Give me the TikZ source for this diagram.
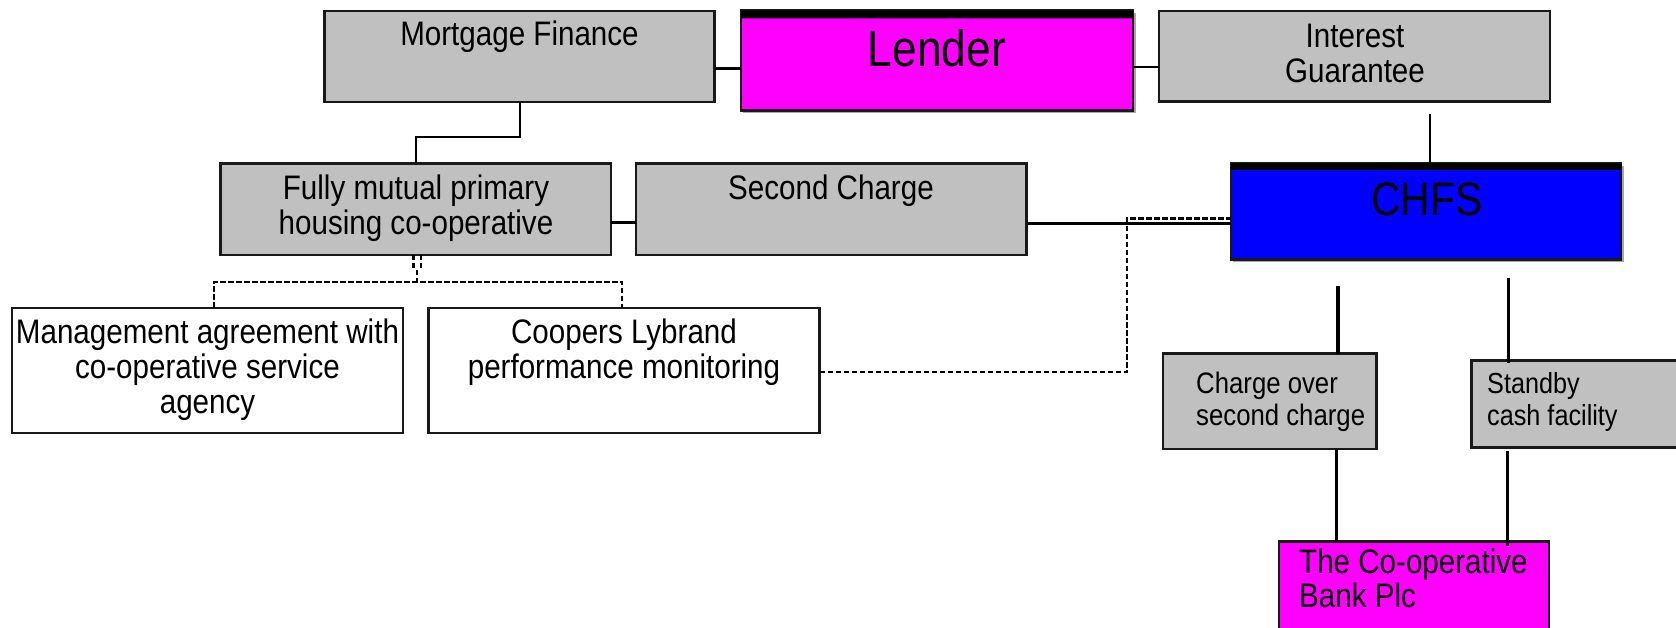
\documentclass[tikz,border=0pt]{standalone}
\usepackage{fontspec}
\setmainfont{Liberation Sans}[FakeStretch=0.87]
\definecolor{boxgrey}{HTML}{C0C0C0}
\definecolor{mag}{HTML}{FF00FF}
\definecolor{chfsblue}{HTML}{0000FF}
\begin{document}
\begin{tikzpicture}[x=1pt,y=-1pt,
  box/.style={draw=black!90, line width=2.2pt, inner sep=0pt, outer sep=0pt, anchor=north west},
  gbox/.style={box, fill=boxgrey},
  wbox/.style={box, fill=white},
  mbox/.style={box, fill=mag, line width=2.5pt},
  bbox/.style={box, fill=chfsblue, line width=2.5pt},
  txt/.style={inner sep=0pt, align=center, font=\fontsize{34}{35}\selectfont},
  ltxt/.style={inner sep=0pt, align=left, anchor=west},
  conn/.style={line width=2.5pt},
  tconn/.style={line width=3.5pt},
  dconn/.style={line width=2.5pt, dash pattern=on 5.5pt off 2.5pt}
]
\useasboundingbox (0,0) rectangle (1676,628);
% boxes
\node[gbox, minimum width=390pt, minimum height=91pt] (mf) at (324.5,11) {};
\node[txt] (mft) at (519.5,37) {Mortgage Finance};

\fill[black!35] (743,13) rectangle (1136,113);
\node[mbox, minimum width=392pt, minimum height=100pt] (lender) at (741,10.5) {};
\fill[black, rounded corners=2pt] (lender.north west) rectangle ([yshift=-8pt]lender.north east);
\node[txt, anchor=base, font=\fontsize{51}{55}\selectfont] (lendert) at (937,66.7) {Lender};

\node[gbox, minimum width=391pt, minimum height=90.5pt] (ig) at (1159,11) {};
\node[txt] (igt) at (1355,53) {Interest\\Guarantee};

\node[gbox, minimum width=390.5pt, minimum height=91.5pt] (fm) at (220.5,163.5) {};
\node[txt] (fmt) at (416,208) {Fully mutual primary\\housing co-operative};

\node[gbox, minimum width=390.5pt, minimum height=91.5pt] (sc) at (636,163.5) {};
\node[txt] (sct) at (831,191) {Second Charge};

\fill[black!35] (1233,166) rectangle (1624,262);
\node[bbox, minimum width=390pt, minimum height=96pt] (chfs) at (1231,163.5) {};
\fill[black, rounded corners=2pt] (chfs.north west) rectangle ([yshift=-6.5pt]chfs.north east);
\node[txt, font=\fontsize{47}{50}\selectfont] (chfst) at (1427,199) {CHFS};

\node[wbox, minimum width=391pt, minimum height=125pt] (mg) at (12,308) {};
\node[txt] (mgt) at (207.5,370) {Management agreement with\\co-operative service\\agency};

\node[wbox, minimum width=391pt, minimum height=125pt] (cl) at (428.5,308) {};
\node[txt] (clt) at (624,352) {Coopers Lybrand\\performance monitoring};

\node[gbox, minimum width=213.5pt, minimum height=95.5pt] (co) at (1163,353.5) {};
\node[ltxt, font=\fontsize{29.6}{32}\selectfont] (cot) at (1196,402) {Charge over\\second charge};

\node[gbox, minimum width=220pt, minimum height=87pt] (sb) at (1471.5,360.5) {};
\node[ltxt, font=\fontsize{29}{32}\selectfont] (sbt) at (1487,402) {Standby\\cash facility};

\node[mbox, minimum width=270pt, minimum height=100pt] (bank) at (1279,541.5) {};
\node[ltxt, font=\fontsize{34}{34}\selectfont] (bankt) at (1299,578) {The Co-operative\\Bank Plc};

% connectors
\draw[conn] (mf.east |- 0,68.5) -- (lender.west |- 0,68.5);
\draw[conn] (lender.east |- 0,67) -- (ig.west |- 0,67);
\coordinate (igs) at (1430,114.5);
\draw[line width=2pt] (igs) -- (igs |- chfs.north);
\coordinate (mfb) at (520,137);
\draw[conn] (mfb |- mf.south) -- (mfb) -- (416,137) -- (416,137 |- fm.north);
\draw[conn] (fm.east |- 0,222.5) -- (sc.west |- 0,222.5);
\draw[tconn] (sc.east |- 0,223.5) -- (chfs.west |- 0,223.5);
\coordinate (dk) at (1127,372);
\draw[dconn] (cl.east |- dk) -- (dk) -- (1127,218.7) -- (chfs.west |- 0,218.7);
% dashed links below co-operative
\draw[dconn] (413.3,0 |- fm.south) -- (413.3,270);
\draw[dconn] (421,0 |- fm.south) -- (421,270);
\draw[dconn] (417,270) -- (417,282);
\coordinate (dl) at (214,282);
\coordinate (dr) at (622,282);
\draw[dconn] (dl |- mg.north) -- (dl) -- (dr) -- (dr |- cl.north);
% CHFS to lower boxes
\coordinate (c1) at (1338,286);
\draw[tconn] (c1) -- (c1 |- co.north);
\coordinate (c2) at (1508,278);
\draw[line width=3pt] (c2) -- (1508,363);
\draw[line width=3pt] (1336,0 |- co.south) -- (1336,0 |- bank.north);
\draw[line width=3pt] (1507,450.5) -- (1507,546);
\end{tikzpicture}
\end{document}
